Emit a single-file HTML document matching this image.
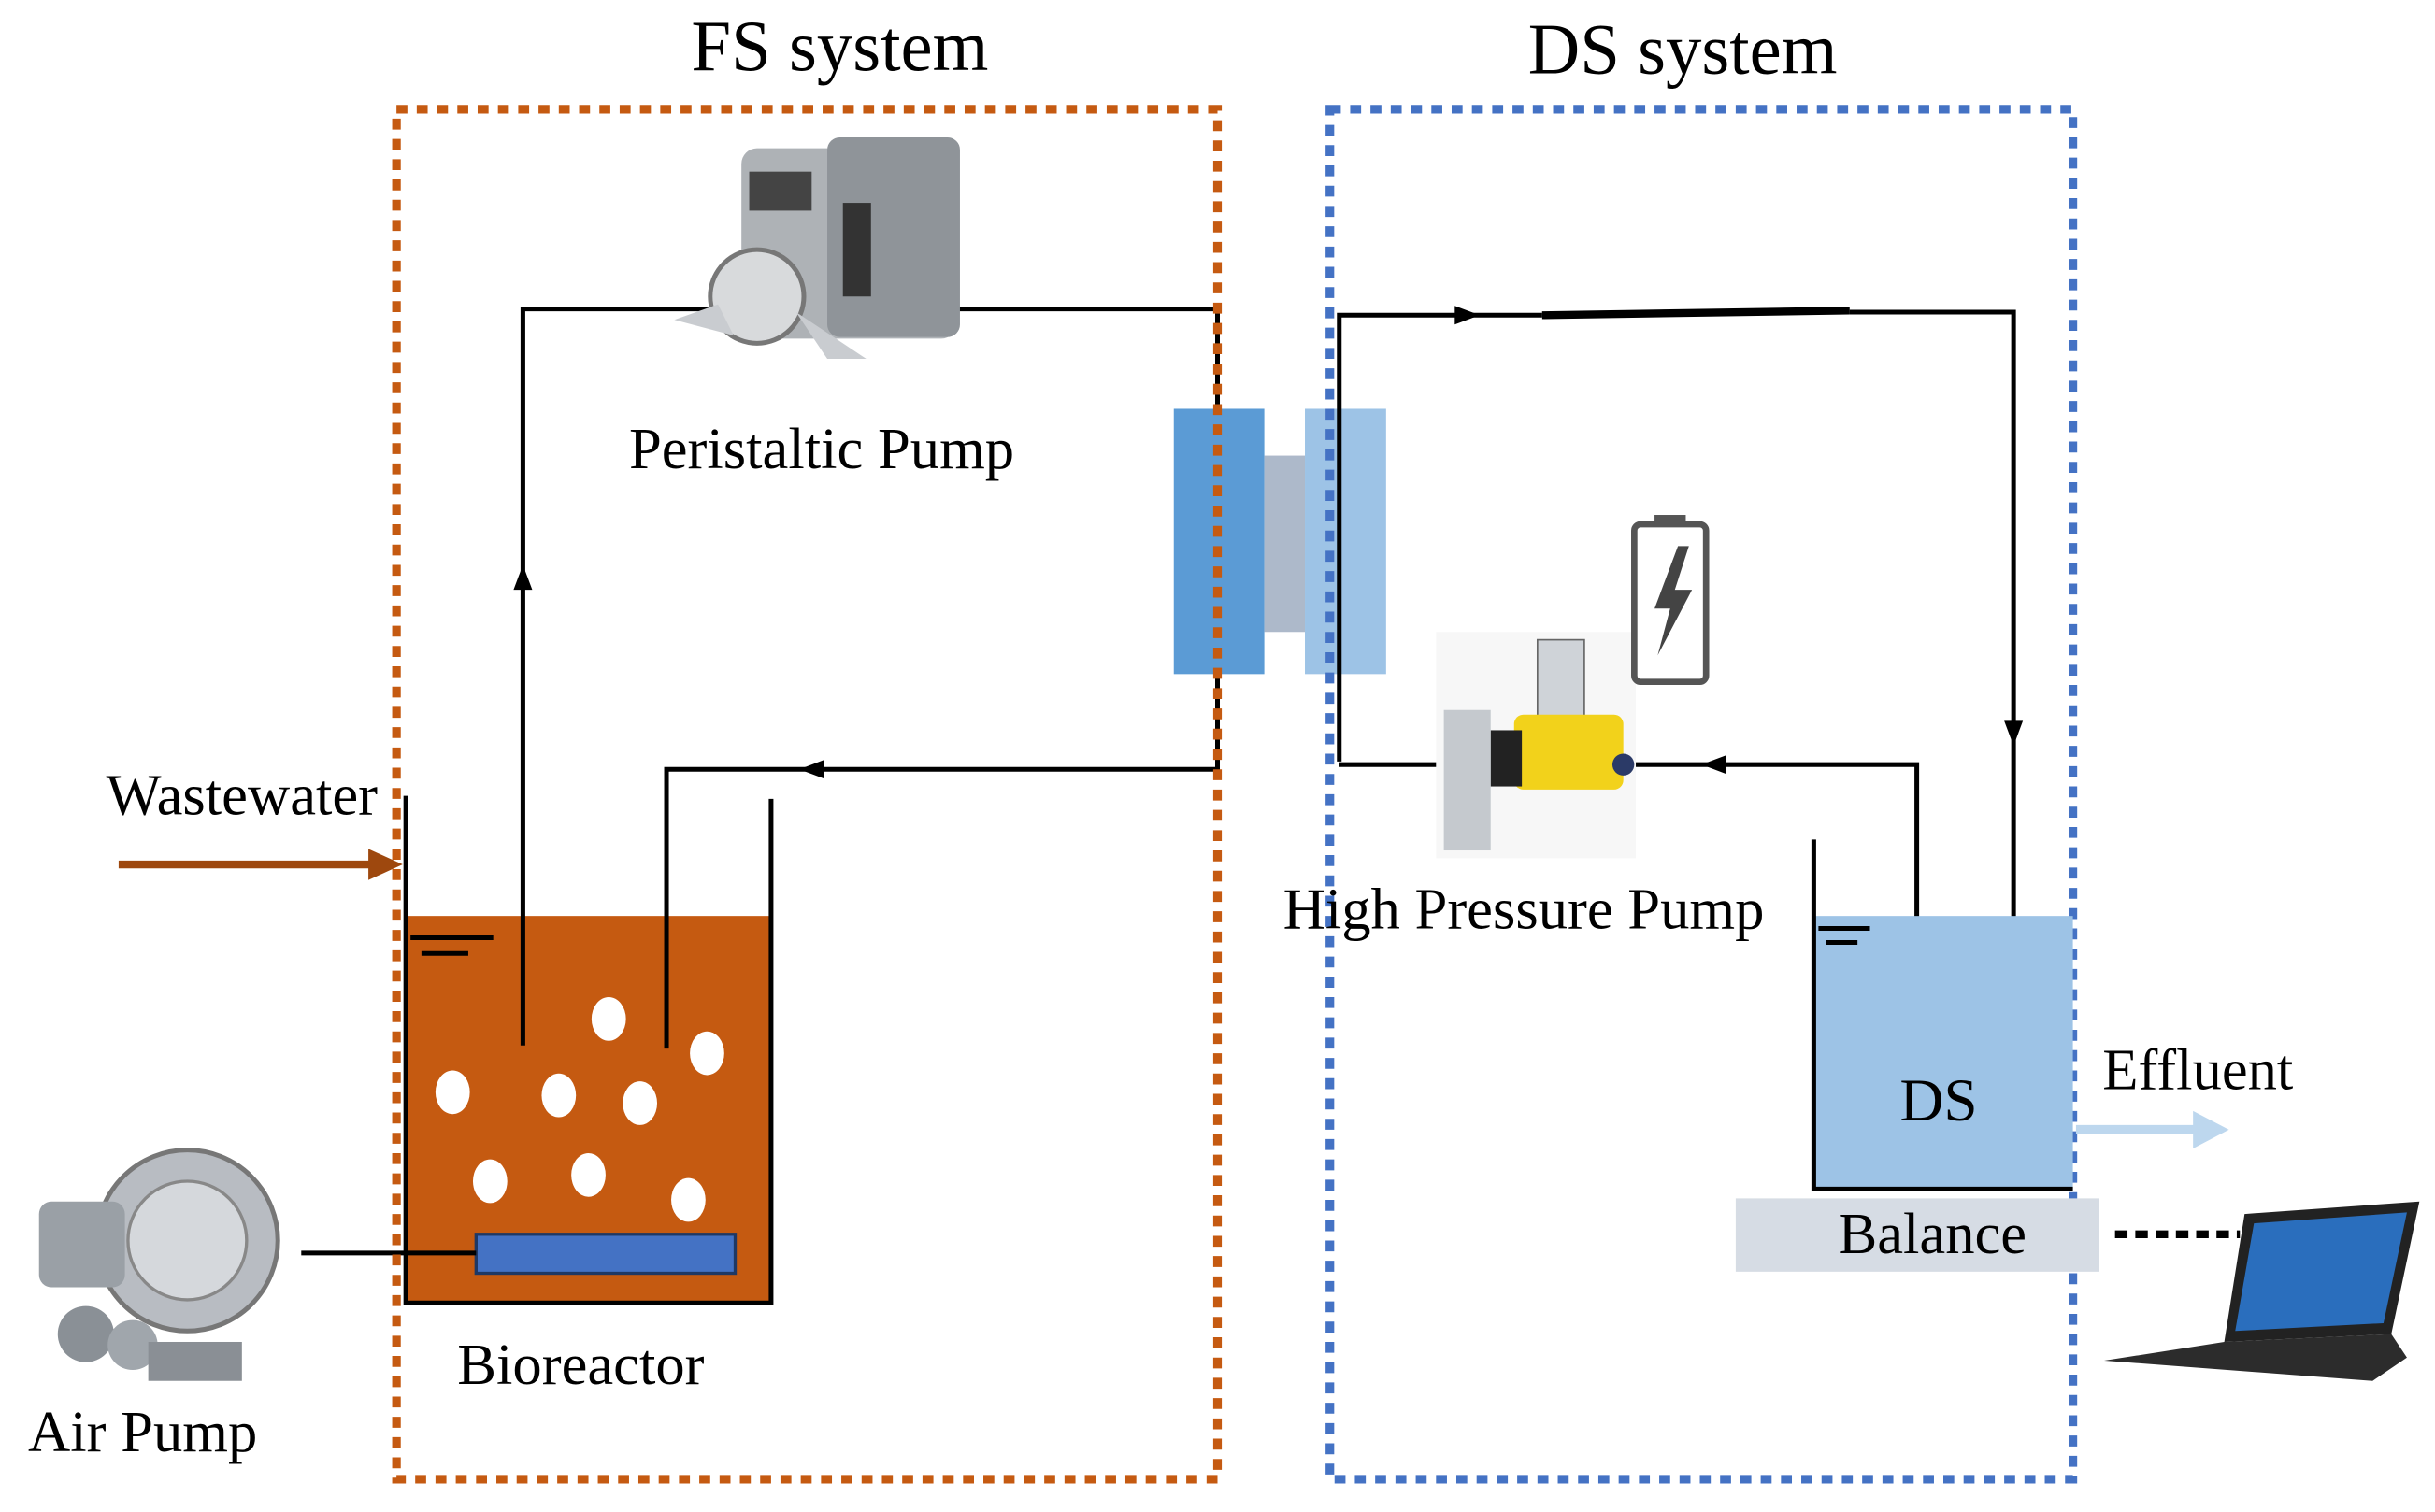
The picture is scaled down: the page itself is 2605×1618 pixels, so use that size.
<!DOCTYPE html>
<html><head><meta charset="utf-8"><style>html,body{margin:0;padding:0;background:#fff}svg{display:block}</style></head>
<body>
<svg width="2605" height="1618" viewBox="0 0 1560 969" preserveAspectRatio="none" xmlns="http://www.w3.org/2000/svg" font-family="Liberation Serif, serif">
<rect width="1560" height="969" fill="#fff"/>
<text x="538" y="45" font-size="46" text-anchor="middle">FS system</text>
<text x="1078" y="47" font-size="46" text-anchor="middle">DS system</text>

<!-- bioreactor -->
<rect x="260" y="587" width="234" height="248" fill="#c55a11"/>
<polyline points="260,510 260,835 494,835 494,512" fill="none" stroke="#000" stroke-width="3"/>
<line x1="263" y1="601" x2="316" y2="601" stroke="#000" stroke-width="3"/>
<line x1="270" y1="611" x2="300" y2="611" stroke="#000" stroke-width="3"/>
<g fill="#fff">
<ellipse cx="390" cy="653" rx="11" ry="14"/><ellipse cx="453" cy="675" rx="11" ry="14"/>
<ellipse cx="290" cy="700" rx="11" ry="14"/><ellipse cx="358" cy="702" rx="11" ry="14"/>
<ellipse cx="410" cy="707" rx="11" ry="14"/><ellipse cx="314" cy="757" rx="11" ry="14"/>
<ellipse cx="377" cy="753" rx="11" ry="14"/><ellipse cx="441" cy="769" rx="11" ry="14"/>
</g>
<rect x="305" y="791" width="166" height="25" fill="#4472c4" stroke="#1f3864" stroke-width="2"/>
<line x1="193" y1="803" x2="305" y2="803" stroke="#000" stroke-width="3"/>
<text x="68" y="522" font-size="37.5">Wastewater</text>
<line x1="76" y1="554" x2="240" y2="554" stroke="#9e480e" stroke-width="5"/>
<path d="M236,544 L258,554 L236,564 z" fill="#9e480e"/>
<text x="293" y="887" font-size="37.5">Bioreactor</text>
<text x="18" y="930" font-size="37.5">Air Pump</text>
<!-- air pump -->
<g>
<circle cx="120" cy="795" r="58" fill="#b8bcc2" stroke="#777" stroke-width="3"/>
<circle cx="120" cy="795" r="38" fill="#d5d8dc" stroke="#888" stroke-width="2"/>
<rect x="25" y="770" width="55" height="55" rx="8" fill="#9aa0a6"/>
<circle cx="55" cy="855" r="18" fill="#8a9096"/><circle cx="85" cy="862" r="16" fill="#a0a6ac"/>
<rect x="95" y="860" width="60" height="25" fill="#8a8f95"/>
</g>

<!-- FS loop -->
<polyline points="335,670 335,198 780,198 780,493 427,493 427,672" fill="none" stroke="#000" stroke-width="3"/>
<path d="M329,378 L335,362 L341,378 z" fill="#000"/>
<path d="M528,487 L512,493 L528,499 z" fill="#000"/>
<!-- peristaltic pump -->
<g>
<rect x="475" y="95" width="138" height="122" rx="10" fill="#aeb2b6"/>
<rect x="530" y="88" width="85" height="128" rx="8" fill="#8f9499"/>
<rect x="540" y="130" width="18" height="60" fill="#333"/>
<rect x="480" y="110" width="40" height="25" fill="#444"/>
<circle cx="485" cy="190" r="30" fill="#d8dadc" stroke="#777" stroke-width="3"/>
<polygon points="432,205 460,195 470,215" fill="#c9ccd0"/>
<polygon points="510,200 555,230 530,230" fill="#c9ccd0"/>
</g>
<text x="403" y="300" font-size="37.5">Peristaltic Pump</text>

<!-- membrane -->
<rect x="752" y="262" width="58" height="170" fill="#5b9bd5"/>
<rect x="810" y="292" width="26" height="113" fill="#adb9ca"/>
<rect x="836" y="262" width="52" height="170" fill="#9dc3e6"/>

<!-- frames -->
<rect x="254" y="70" width="526" height="878" fill="none" stroke="#c55a11" stroke-width="5.5" stroke-dasharray="7,6"/>
<rect x="852" y="70" width="476" height="878" fill="none" stroke="#4472c4" stroke-width="5.5" stroke-dasharray="7,6"/>

<!-- DS loop -->
<polyline points="858,488 858,202 988,202" fill="none" stroke="#000" stroke-width="3"/>
<line x1="988" y1="202" x2="1185" y2="199" stroke="#000" stroke-width="5"/>
<polyline points="1185,200 1290,200 1290,670" fill="none" stroke="#000" stroke-width="3"/>
<path d="M932,196 L948,202 L932,208 z" fill="#000"/>
<path d="M1284,462 L1290,478 L1296,462 z" fill="#000"/>
<polyline points="1228,670 1228,490 858,490" fill="none" stroke="#000" stroke-width="3"/>
<path d="M1106,484 L1090,490 L1106,496 z" fill="#000"/>

<!-- HP pump -->
<g>
<rect x="920" y="405" width="128" height="145" fill="#f7f7f7"/>
<rect x="985" y="410" width="30" height="50" fill="#cfd3d8" stroke="#666"/>
<rect x="970" y="458" width="70" height="48" rx="6" fill="#f2d21b"/>
<rect x="955" y="468" width="20" height="36" fill="#222"/>
<circle cx="1040" cy="490" r="7" fill="#2b3a67"/>
<rect x="925" y="455" width="30" height="90" fill="#c5c9ce"/>
</g>
<!-- battery -->
<rect x="1047" y="336" width="46" height="101" rx="4" fill="#fff" stroke="#555" stroke-width="4"/>
<rect x="1060" y="330" width="20" height="6" fill="#555"/>
<path d="M1075,350 L1060,390 L1070,390 L1062,420 L1084,378 L1073,378 L1082,350 z" fill="#444"/>
<text x="822" y="595" font-size="37.5">High Pressure Pump</text>

<!-- DS tank -->
<rect x="1162" y="587" width="166" height="175" fill="#9dc3e6"/>
<polyline points="1162,538 1162,762 1328,762" fill="none" stroke="#000" stroke-width="3"/>
<line x1="1165" y1="595" x2="1198" y2="595" stroke="#000" stroke-width="3"/>
<line x1="1170" y1="604" x2="1190" y2="604" stroke="#000" stroke-width="3"/>
<text x="1242" y="718" font-size="39" text-anchor="middle">DS</text>
<rect x="1112" y="768" width="233" height="47" fill="#d6dce4"/>
<text x="1238" y="803" font-size="37.5" text-anchor="middle">Balance</text>
<text x="1347" y="698" font-size="37.5">Effluent</text>
<line x1="1330" y1="724" x2="1410" y2="724" stroke="#bdd7ee" stroke-width="6"/>
<path d="M1405,712 L1428,724 L1405,736 z" fill="#bdd7ee"/>
<line x1="1355" y1="791" x2="1435" y2="791" stroke="#000" stroke-width="5" stroke-dasharray="8,5"/>
<!-- laptop -->
<polygon points="1438,778 1550,770 1532,855 1425,860" fill="#222"/>
<polygon points="1444,784 1542,777 1527,848 1432,853" fill="#2a6ebd"/>
<polygon points="1425,860 1532,855 1542,870 1520,885 1348,872" fill="#2c2c2c"/>
</svg>
</body></html>
